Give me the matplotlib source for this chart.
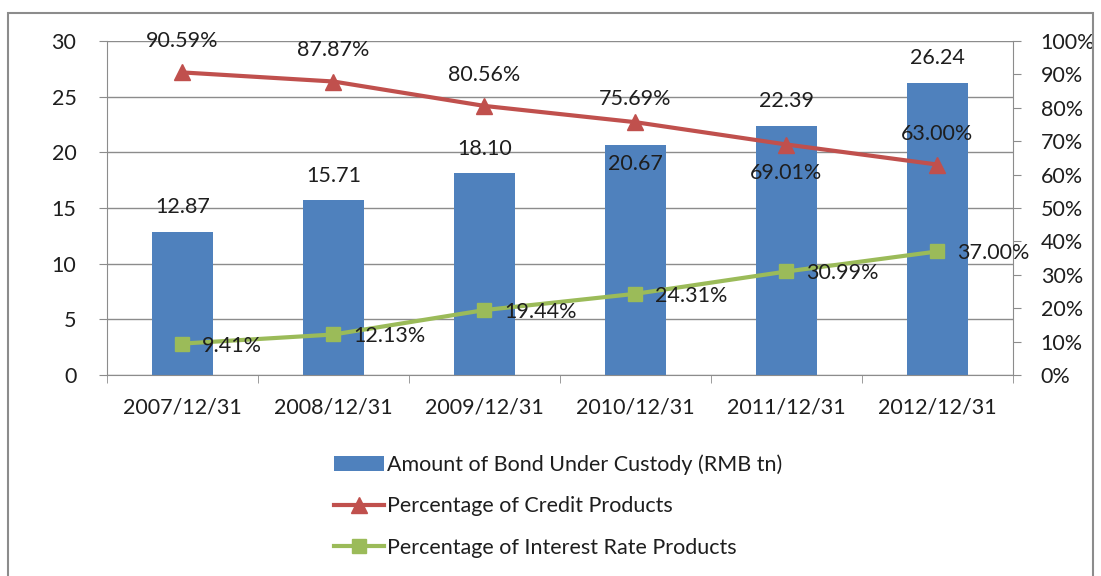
import matplotlib.pyplot as plt
import numpy as np
from matplotlib.patches import Rectangle

plt.rcParams['font.family'] = ['Lato', 'DejaVu Sans']

dates = ['2007/12/31', '2008/12/31', '2009/12/31', '2010/12/31', '2011/12/31', '2012/12/31']
amount = [12.87, 15.71, 18.10, 20.67, 22.39, 26.24]
credit = [90.59, 87.87, 80.56, 75.69, 69.01, 63.00]
interest = [9.41, 12.13, 19.44, 24.31, 30.99, 37.00]

# label offsets (as placed in the original chart)
amount_off = [2.2, 2.2, 2.2, -1.7, 2.2, 2.2]
credit_off = [9.3, 9.3, 9.3, 7.0, -8.4, 9.3]

blue = '#4f81bd'
red = '#c0504d'
green = '#9bbb59'
fs = 15.5
tc = '#1e1e1e'

fig = plt.figure(figsize=(11.01, 5.76), dpi=100)
# outer chart frame
fig.patches.append(Rectangle((8 / 1101, -0.01), 1085 / 1101, 1 - 13 / 576 + 0.01,
                             transform=fig.transFigure, fill=False,
                             edgecolor='#8c8c8c', linewidth=1.5))

ax = fig.add_axes([107 / 1101, 1 - 375 / 576, 906 / 1101, 334 / 576])
ax2 = ax.twinx()

x = np.arange(len(dates))
bars = ax.bar(x, amount, width=0.4, color=blue, zorder=2)
for xi, v, o in zip(x, amount, amount_off):
    ax.text(xi, v + o, f'{v:.2f}', ha='center', va='center', fontsize=fs, color=tc, zorder=5)

ax.set_xlim(-0.5, len(dates) - 0.5)
ax.set_ylim(0, 30)
ax.set_yticks(range(0, 31, 5))
ax.grid(axis='y', color='#8c8c8c', linewidth=1, zorder=0)
ax.set_axisbelow(True)
ax.set_xticks(x)
ax.set_xticklabels(dates)
ax.set_xticks(np.arange(-0.5, len(dates)), minor=True)
ax.tick_params(axis='x', which='major', length=0, pad=16, labelsize=fs, labelcolor=tc)
ax.tick_params(axis='x', which='minor', length=6, color='#8c8c8c', direction='out')
ax.tick_params(axis='y', length=6, color='#8c8c8c', labelsize=fs, pad=16, labelcolor=tc)
for s in ['top', 'right']:
    ax.spines[s].set_visible(False)
for s in ['left', 'bottom']:
    ax.spines[s].set_color('#8c8c8c')

l1, = ax2.plot(x, credit, color=red, linewidth=3, marker='^', markersize=11, zorder=3)
l2, = ax2.plot(x, interest, color=green, linewidth=3, marker='s', markersize=10, zorder=3)
ax2.set_ylim(0, 100)
ax2.set_yticks(range(0, 101, 10))
ax2.set_yticklabels([f'{v}%' for v in range(0, 101, 10)])
ax2.tick_params(axis='y', length=6, color='#8c8c8c', labelsize=fs, pad=14, labelcolor=tc)
for s in ['top', 'left', 'bottom']:
    ax2.spines[s].set_visible(False)
ax2.spines['right'].set_color('#8c8c8c')

for i, v in enumerate(credit):
    ax2.text(x[i], v + credit_off[i], f'{v:.2f}%', ha='center', va='center',
             fontsize=fs, color=tc, zorder=5)
for i, v in enumerate(interest):
    ax2.text(x[i] + 0.13, v - 0.6, f'{v:.2f}%', ha='left', va='center',
             fontsize=fs, color=tc, zorder=5)

fig.legend([bars, l1, l2],
           ['Amount of Bond Under Custody (RMB tn)', 'Percentage of Credit Products',
            'Percentage of Interest Rate Products'],
           loc='upper left', bbox_to_anchor=(315 / 1101, 1 - 435 / 576),
           frameon=False, fontsize=fs, handlelength=2.3, handletextpad=0.15,
           labelspacing=1.0, labelcolor=tc)

fig.savefig('out.png', dpi=100)
